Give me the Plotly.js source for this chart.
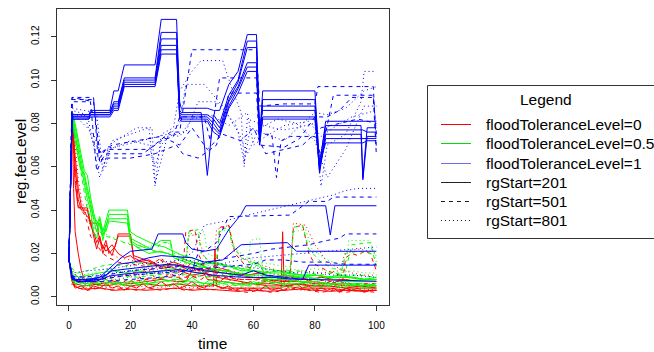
<!DOCTYPE html>
<html>
<head>
<meta charset="utf-8">
<script src="https://cdn.plot.ly/plotly-3.0.1.min.js"></script>
<style>html,body{margin:0;padding:0;background:#fff;}#chart{width:654px;height:352px;}</style>
</head>
<body>
<div id="chart"></div>
<script>
// ---------- tick labels / legend texts ----------
const xTicks = [0, 20, 40, 60, 80, 100];
const yTicks = [0, 0.02, 0.04, 0.06, 0.08, 0.10, 0.12];
const yTickText = ["0.00", "0.02", "0.04", "0.06", "0.08", "0.10", "0.12"];
const legendLabels = ["floodToleranceLevel=0", "floodToleranceLevel=0.5", "floodToleranceLevel=1", "rgStart=201", "rgStart=501", "rgStart=801"];

// ---------- floodToleranceLevel=1, rgStart=201 (high bundle, shared time grid) ----------
const timeBlueSolidHigh = [0,1,6.5,7,13.3,14.6,16,18,28,30,35,36,36.5,43,45,47,49,52,55,58,61,62,63,80,81.5,83.5,95,95.6,97,100];
const blueSolidHigh1 = [0.017,0.084,0.084,0.086,0.086,0.095,0.095,0.107,0.107,0.128,0.128,0.090,0.087,0.087,0.087,0.086,0.086,0.098,0.104,0.121,0.121,0.072,0.095,0.095,0.060,0.081,0.081,0.081,0.081,0.081];
const blueSolidHigh2 = [0.017,0.084,0.084,0.085,0.085,0.090,0.090,0.101,0.101,0.122,0.122,0.086,0.085,0.085,0.056,0.084,0.080,0.093,0.100,0.118,0.118,0.070,0.091,0.091,0.062,0.079,0.079,0.055,0.078,0.078];
const blueSolidHigh3 = [0.017,0.083,0.083,0.085,0.085,0.089,0.089,0.100,0.100,0.119,0.119,0.085,0.084,0.084,0.084,0.082,0.078,0.091,0.099,0.115,0.115,0.075,0.088,0.088,0.058,0.077,0.077,0.077,0.076,0.076];
const blueSolidHigh4 = [0.017,0.083,0.083,0.084,0.084,0.088,0.088,0.099,0.099,0.116,0.116,0.084,0.083,0.083,0.083,0.080,0.076,0.090,0.097,0.108,0.108,0.078,0.086,0.086,0.057,0.075,0.075,0.054,0.074,0.074];
const blueSolidHigh5 = [0.017,0.082,0.082,0.084,0.084,0.087,0.087,0.098,0.098,0.114,0.114,0.083,0.082,0.082,0.082,0.078,0.075,0.088,0.096,0.106,0.106,0.072,0.083,0.083,0.059,0.073,0.073,0.073,0.073,0.073];
const blueSolidHigh6 = [0.017,0.082,0.082,0.083,0.083,0.086,0.086,0.097,0.097,0.112,0.112,0.082,0.081,0.081,0.081,0.076,0.074,0.087,0.094,0.104,0.104,0.070,0.082,0.082,0.061,0.071,0.071,0.071,0.072,0.072];

// ---------- other series as [time, value] points ----------
const blueDashHigh1 = [[0,0.017],[1,0.092],[8,0.092],[9.5,0.063],[12,0.068],[26,0.068],[33,0.076],[36,0.076],[38,0.095],[40,0.114],[61,0.114],[62,0.088],[70,0.089],[80,0.089],[81,0.097],[99,0.097],[100,0.068]];
const blueDashHigh2 = [[0,0.017],[1,0.091],[8,0.091],[10,0.062],[12,0.066],[24,0.066],[30,0.072],[34,0.074],[36,0.083],[44,0.083],[46,0.072],[49,0.101],[61,0.101],[62,0.075],[66,0.075],[67.5,0.055],[69,0.072],[72,0.074],[80,0.074],[82,0.065],[86,0.093],[99,0.093],[100,0.075]];
const blueDashHigh3 = [[0,0.017],[1,0.090],[7,0.090],[9,0.058],[11,0.064],[20,0.064],[28,0.066],[35,0.070],[37,0.066],[42,0.064],[48,0.070],[52,0.094],[61,0.094],[62,0.070],[70,0.069],[75,0.073],[80,0.083],[84,0.083],[88,0.086],[92,0.092],[99,0.092],[100,0.065]];
const blueDashHigh4 = [[0,0.017],[1,0.092],[8,0.090],[10,0.066],[14,0.070],[22,0.072],[30,0.074],[36,0.070],[40,0.078],[45,0.068],[50,0.075],[56,0.072],[60,0.078],[64,0.066],[70,0.068],[76,0.070],[82,0.078],[88,0.080],[94,0.082],[100,0.080]];

const blueDotHigh1 = [[0,0.017],[1,0.085],[8,0.075],[12,0.060],[14,0.072],[20,0.075],[26,0.078],[28,0.051],[30,0.075],[34,0.078],[36,0.095],[40,0.104],[43,0.109],[50,0.109],[53,0.096],[56,0.085],[57,0.060],[58,0.082],[62,0.080],[66,0.078],[70,0.077],[74,0.078],[80,0.080],[82,0.051],[84,0.070],[90,0.075],[95,0.090],[96,0.104],[100,0.104]];
const blueDotHigh2 = [[0,0.017],[1,0.086],[6,0.084],[9,0.062],[10,0.055],[13,0.068],[20,0.072],[26,0.070],[28,0.060],[30,0.070],[36,0.080],[38,0.098],[44,0.098],[50,0.088],[55,0.076],[57,0.062],[59,0.078],[64,0.075],[70,0.072],[76,0.080],[80,0.085],[84,0.084],[90,0.087],[96,0.095],[100,0.097]];
const blueDotHigh3 = [[0,0.017],[1,0.087],[9,0.085],[11,0.058],[13,0.070],[22,0.078],[27,0.078],[28,0.052],[32,0.074],[38,0.076],[42,0.090],[48,0.090],[54,0.080],[58,0.066],[62,0.078],[68,0.082],[74,0.080],[80,0.072],[84,0.055],[90,0.068],[96,0.088],[100,0.088]];
const blueDotHigh4 = [[0,0.017],[1,0.083],[5,0.084],[9,0.066],[12,0.068],[18,0.070],[26,0.073],[32,0.075],[36,0.074],[40,0.082],[46,0.084],[52,0.079],[58,0.085],[60,0.070],[64,0.074],[70,0.079],[78,0.081],[82,0.074],[86,0.078],[92,0.083],[100,0.086]];

const blueSolidLow1 = [[0,0.017],[1,0.010],[2,0.008],[6,0.008],[10,0.009],[14,0.014],[17,0.018],[20,0.021],[27,0.022],[29,0.029],[37,0.029],[38,0.025],[40,0.022],[44,0.021],[48,0.022],[52,0.031],[56,0.038],[57.5,0.042],[83.5,0.042],[85,0.0285],[86.5,0.042],[100,0.042]];
const blueSolidLow2 = [[0,0.017],[1,0.009],[3,0.007],[8,0.008],[12,0.010],[16,0.015],[21,0.016],[26,0.018],[30,0.019],[40,0.018],[44,0.016],[50,0.017],[56,0.024],[71,0.025],[74,0.021],[100,0.021]];
const blueSolidLow3 = [[0,0.017],[1,0.008],[4,0.007],[10,0.008],[14,0.012],[20,0.013],[26,0.014],[32,0.015],[38,0.014],[44,0.012],[50,0.011],[56,0.010],[60,0.012],[64,0.010],[70,0.009],[76,0.008],[78,0.0146],[100,0.0146]];
const blueSolidLow4 = [[0,0.017],[1,0.0085],[3,0.0068],[9,0.0072],[13,0.0095],[18,0.0105],[24,0.0112],[30,0.0118],[36,0.0125],[42,0.0110],[48,0.0098],[54,0.0092],[60,0.0088],[66,0.0090],[72,0.0082],[78,0.0080],[84,0.0078],[90,0.0076],[96,0.0074],[100,0.0072]];
const blueDashLow1 = [[0,0.017],[1,0.009],[2,0.008],[10,0.008],[15,0.009],[20,0.010],[30,0.011],[40,0.012],[42,0.020],[45,0.022],[48,0.025],[52,0.037],[72,0.0377],[75,0.041],[78,0.044],[84,0.044],[86,0.046],[100,0.046]];
const blueDashLow2 = [[0,0.017],[1,0.008],[3,0.007],[10,0.007],[20,0.008],[30,0.009],[36,0.010],[40,0.014],[46,0.016],[52,0.018],[60,0.020],[66,0.022],[72,0.023],[78,0.024],[84,0.026],[88,0.027],[90,0.029],[100,0.029]];
const blueDashLow3 = [[0,0.017],[1,0.0095],[5,0.009],[12,0.010],[20,0.012],[28,0.013],[36,0.014],[44,0.013],[52,0.014],[60,0.015],[64,0.017],[70,0.017],[76,0.016],[84,0.016],[90,0.015],[100,0.015]];
const blueDotLow1 = [[0,0.017],[1,0.010],[4,0.009],[10,0.010],[20,0.012],[30,0.014],[40,0.020],[44,0.033],[51,0.035],[56,0.037],[62,0.039],[68,0.041],[74,0.043],[80,0.045],[86,0.047],[90,0.049],[94,0.050],[100,0.050]];
const blueDotLow2 = [[0,0.017],[1,0.009],[5,0.008],[12,0.009],[20,0.010],[28,0.011],[36,0.012],[44,0.013],[52,0.016],[60,0.018],[68,0.019],[76,0.020],[84,0.021],[92,0.022],[100,0.023]];
const blueDotLow3 = [[0,0.017],[1,0.011],[6,0.012],[14,0.013],[22,0.015],[30,0.016],[38,0.017],[44,0.016],[50,0.015],[56,0.014],[62,0.013],[68,0.012],[74,0.011],[80,0.011],[86,0.010],[92,0.010],[100,0.009]];

const greenSolid1 = [[0,0.017],[1,0.085],[2,0.075],[3,0.068],[4,0.060],[5,0.052],[6,0.045],[7,0.040],[8,0.030],[9,0.027],[10,0.034],[11,0.026],[12,0.032],[13,0.038],[19,0.038],[20,0.026],[22,0.024],[26,0.022],[30,0.026],[33,0.026],[34,0.018],[38,0.016],[42,0.014],[46,0.013],[50,0.012],[55,0.011],[60,0.009],[65,0.008],[70,0.008],[75,0.007],[80,0.007],[85,0.006],[90,0.006],[95,0.006],[100,0.005]];
const greenSolid2 = [[0,0.017],[1,0.084],[2,0.078],[3,0.070],[4,0.062],[5,0.055],[6,0.048],[7,0.042],[8,0.035],[9,0.030],[10,0.036],[11,0.028],[12,0.033],[13,0.036],[19,0.036],[20,0.025],[23,0.022],[26,0.020],[30,0.021],[34,0.019],[38,0.017],[42,0.015],[46,0.013],[50,0.012],[54,0.011],[58,0.010],[62,0.010],[66,0.009],[70,0.010],[74,0.009],[78,0.009],[82,0.008],[86,0.008],[90,0.007],[95,0.007],[100,0.007]];
const greenSolid3 = [[0,0.017],[1,0.083],[2,0.072],[3,0.064],[4,0.058],[5,0.057],[6,0.050],[7,0.043],[8,0.037],[10,0.033],[12,0.030],[13,0.035],[19,0.034],[20,0.027],[24,0.024],[28,0.021],[32,0.020],[36,0.018],[40,0.016],[44,0.015],[48,0.016],[52,0.014],[56,0.012],[60,0.012],[64,0.011],[68,0.012],[72,0.011],[76,0.010],[80,0.010],[84,0.009],[88,0.009],[92,0.009],[96,0.008],[100,0.008]];
const greenSolid4 = [[0,0.017],[1,0.009],[2,0.007],[5,0.006],[10,0.007],[15,0.006],[20,0.007],[25,0.006],[30,0.007],[35,0.008],[40,0.007],[45,0.006],[50,0.007],[55,0.006],[60,0.006],[65,0.007],[70,0.006],[75,0.006],[80,0.007],[85,0.006],[90,0.006],[95,0.005],[100,0.006]];
const greenSolid5 = [[0,0.017],[1,0.011],[3,0.009],[6,0.010],[10,0.011],[14,0.012],[18,0.011],[22,0.012],[26,0.011],[30,0.012],[34,0.013],[38,0.012],[42,0.011],[46,0.012],[50,0.011],[54,0.010],[58,0.011],[60,0.016],[62,0.015],[64,0.010],[68,0.009],[72,0.010],[76,0.009],[80,0.010],[84,0.009],[88,0.010],[92,0.009],[96,0.008],[100,0.009]];
const greenSolid6 = [[0,0.017],[1,0.085],[2,0.080],[3,0.073],[4,0.066],[5,0.058],[6,0.056],[7,0.046],[8,0.039],[9,0.033],[10,0.037],[11,0.030],[12,0.035],[13,0.040],[19,0.040],[20,0.030],[22,0.028],[25,0.026],[28,0.024],[31,0.023],[34,0.021],[37,0.019],[40,0.018],[44,0.016],[48,0.015],[52,0.014],[56,0.013],[60,0.012],[65,0.011],[70,0.011],[75,0.010],[80,0.010],[85,0.009],[90,0.009],[95,0.008],[100,0.008]];
const greenLow1 = [[0,0.017],[1,0.008],[2,0.006],[4,0.007],[6,0.005],[8,0.007],[10,0.006],[12,0.008],[14,0.006],[16,0.007],[18,0.005],[20,0.007],[22,0.006],[24,0.008],[26,0.006],[28,0.007],[30,0.009],[32,0.007],[34,0.008],[36,0.006],[38,0.007],[40,0.009],[42,0.007],[44,0.006],[46,0.008],[48,0.007],[50,0.006],[52,0.007],[54,0.005],[56,0.006],[58,0.005],[60,0.007],[62,0.006],[64,0.008],[66,0.006],[68,0.007],[70,0.005],[72,0.007],[74,0.008],[76,0.006],[78,0.007],[80,0.005],[82,0.006],[84,0.005],[86,0.006],[88,0.004],[90,0.006],[92,0.005],[94,0.006],[96,0.004],[98,0.005],[100,0.005]];
const greenDash1 = [[0,0.017],[1,0.085],[2,0.074],[3,0.065],[4,0.055],[5,0.048],[6,0.040],[7,0.037],[8,0.032],[10,0.030],[12,0.028],[14,0.027],[16,0.026],[20,0.024],[24,0.022],[28,0.021],[30,0.025],[33,0.025],[34,0.018],[38,0.016],[39,0.030],[42,0.031],[43,0.020],[46,0.016],[48,0.017],[49,0.031],[52,0.032],[53,0.024],[56,0.018],[60,0.015],[64,0.013],[68,0.012],[72,0.012],[73,0.032],[76,0.033],[78,0.022],[82,0.016],[86,0.013],[90,0.012],[92,0.024],[98,0.025],[100,0.014]];
const greenDash2 = [[0,0.017],[1,0.007],[3,0.005],[8,0.005],[14,0.006],[20,0.005],[26,0.006],[32,0.005],[38,0.006],[44,0.005],[50,0.006],[56,0.005],[62,0.005],[68,0.004],[74,0.005],[80,0.004],[86,0.005],[92,0.004],[100,0.004]];
const greenDash3 = [[0,0.017],[1,0.013],[3,0.011],[6,0.012],[10,0.014],[14,0.015],[18,0.014],[22,0.016],[26,0.015],[30,0.014],[34,0.015],[38,0.013],[42,0.014],[46,0.013],[50,0.012],[54,0.013],[58,0.012],[62,0.011],[66,0.012],[70,0.011],[74,0.012],[78,0.011],[82,0.010],[86,0.011],[90,0.010],[94,0.010],[100,0.009]];
const greenDash4 = [[0,0.017],[1,0.009],[4,0.008],[10,0.009],[16,0.010],[22,0.009],[28,0.010],[34,0.011],[40,0.010],[46,0.009],[52,0.010],[58,0.009],[64,0.009],[70,0.008],[76,0.009],[82,0.008],[88,0.008],[90,0.020],[94,0.021],[98,0.020],[100,0.019]];
const greenDot1 = [[0,0.017],[1,0.085],[2,0.076],[3,0.066],[4,0.058],[5,0.050],[6,0.043],[7,0.039],[9,0.034],[11,0.030],[13,0.028],[15,0.027],[18,0.025],[22,0.024],[26,0.023],[30,0.026],[32,0.026],[34,0.020],[38,0.019],[39,0.029],[44,0.030],[45,0.020],[48,0.018],[49,0.030],[52,0.031],[54,0.022],[58,0.018],[62,0.016],[66,0.015],[70,0.014],[72,0.014],[73,0.030],[77,0.031],[79,0.022],[84,0.017],[88,0.015],[90,0.014],[91,0.026],[98,0.026],[100,0.016]];
const greenDot2 = [[0,0.017],[1,0.006],[5,0.005],[10,0.006],[16,0.005],[22,0.006],[28,0.005],[34,0.006],[40,0.005],[46,0.006],[52,0.005],[58,0.006],[64,0.005],[70,0.006],[76,0.005],[82,0.006],[88,0.005],[94,0.005],[100,0.005]];
const greenDot3 = [[0,0.017],[1,0.012],[4,0.010],[8,0.011],[12,0.013],[16,0.012],[20,0.014],[24,0.013],[28,0.015],[32,0.014],[36,0.016],[40,0.015],[44,0.014],[48,0.015],[52,0.014],[56,0.013],[60,0.014],[64,0.013],[68,0.012],[72,0.013],[76,0.012],[80,0.013],[84,0.012],[88,0.011],[92,0.012],[96,0.011],[100,0.011]];
const greenDot4 = [[0,0.017],[1,0.010],[3,0.008],[8,0.009],[14,0.008],[20,0.009],[26,0.010],[32,0.009],[38,0.010],[44,0.009],[50,0.010],[56,0.009],[58,0.009],[59,0.026],[62,0.027],[63,0.012],[68,0.010],[74,0.009],[80,0.010],[86,0.009],[92,0.009],[100,0.008]];

const redSolid1 = [[0,0.017],[1,0.085],[2,0.060],[3,0.045],[4,0.040],[6,0.040],[7,0.033],[8,0.030],[9,0.025],[10,0.028],[11,0.022],[12,0.026],[13,0.020],[15,0.023],[16,0.029],[20,0.029],[21,0.018],[24,0.016],[28,0.015],[30,0.013],[33,0.014],[36,0.012],[40,0.010],[44,0.011],[48,0.009],[52,0.008],[56,0.007],[60,0.006],[66,0.006],[70,0.005],[74,0.006],[78,0.005],[84,0.005],[90,0.004],[95,0.005],[100,0.004]];
const redSolid2 = [[0,0.017],[1,0.084],[2,0.065],[3,0.050],[4,0.042],[5,0.039],[6,0.037],[7,0.035],[8,0.028],[9,0.022],[10,0.027],[11,0.020],[12,0.024],[14,0.019],[16,0.028],[20,0.028],[21,0.019],[25,0.017],[30,0.014],[35,0.015],[38,0.013],[40,0.016],[43,0.015],[46,0.012],[50,0.011],[55,0.010],[60,0.009],[65,0.008],[70,0.007],[75,0.007],[80,0.006],[85,0.006],[90,0.005],[100,0.005]];
const redSolid3 = [[0,0.017],[1,0.008],[2,0.005],[3,0.004],[5,0.0035],[10,0.004],[15,0.003],[20,0.0035],[25,0.003],[30,0.0035],[35,0.004],[40,0.003],[45,0.0035],[50,0.003],[55,0.0025],[60,0.003],[65,0.0025],[70,0.003],[75,0.0035],[80,0.003],[85,0.0025],[90,0.003],[95,0.0025],[100,0.003]];
const redSolid4 = [[0,0.017],[1,0.083],[1.5,0.050],[2,0.030],[3,0.020],[4,0.012],[5,0.008],[8,0.006],[12,0.005],[16,0.006],[20,0.005],[25,0.006],[30,0.005],[35,0.006],[40,0.005],[45,0.005],[47,0.005],[47.5,0.022],[48,0.005],[50,0.004],[55,0.004],[60,0.004],[65,0.004],[69,0.004],[69.5,0.030],[70,0.005],[75,0.004],[80,0.004],[85,0.004],[90,0.003],[100,0.003]];
const redSolid5 = [[0,0.017],[1,0.009],[2,0.006],[5,0.005],[10,0.006],[15,0.007],[20,0.006],[25,0.007],[30,0.008],[35,0.007],[38,0.007],[40,0.012],[43,0.013],[45,0.008],[50,0.007],[55,0.006],[60,0.006],[65,0.005],[70,0.005],[75,0.006],[80,0.005],[85,0.005],[90,0.004],[95,0.004],[100,0.004]];
const redSolid6 = [[0,0.017],[1,0.085],[2,0.052],[3,0.041],[6,0.041],[7,0.034],[9,0.034],[10,0.026],[12,0.021],[14,0.024],[16,0.020],[18,0.018],[20,0.019],[22,0.016],[26,0.017],[30,0.014],[34,0.016],[38,0.014],[42,0.013],[46,0.012],[50,0.013],[54,0.011],[58,0.010],[62,0.011],[66,0.009],[70,0.010],[74,0.009],[78,0.008],[82,0.009],[86,0.008],[90,0.008],[94,0.007],[100,0.007]];
const redLow1 = [[0,0.017],[1,0.007],[2,0.004],[4,0.005],[6,0.003],[8,0.005],[10,0.004],[12,0.006],[14,0.004],[16,0.005],[18,0.003],[20,0.005],[22,0.004],[24,0.006],[26,0.004],[28,0.005],[30,0.007],[32,0.005],[34,0.006],[36,0.004],[38,0.005],[40,0.007],[42,0.005],[44,0.004],[46,0.006],[48,0.005],[50,0.004],[52,0.005],[54,0.003],[56,0.004],[58,0.003],[60,0.004],[62,0.003],[64,0.005],[66,0.003],[68,0.004],[70,0.003],[72,0.005],[74,0.006],[76,0.004],[78,0.005],[80,0.003],[82,0.004],[84,0.003],[86,0.004],[88,0.002],[90,0.004],[92,0.003],[94,0.004],[96,0.002],[98,0.003],[100,0.003]];
const redLow2 = [[0,0.017],[1,0.010],[2,0.007],[3,0.008],[5,0.006],[7,0.008],[9,0.007],[11,0.009],[13,0.007],[15,0.008],[17,0.006],[19,0.008],[21,0.007],[23,0.009],[25,0.008],[27,0.010],[29,0.008],[31,0.009],[33,0.011],[35,0.009],[37,0.008],[39,0.010],[41,0.009],[43,0.008],[45,0.010],[47,0.008],[49,0.007],[51,0.009],[53,0.007],[55,0.008],[57,0.006],[59,0.007],[61,0.006],[63,0.008],[65,0.006],[67,0.007],[69,0.006],[71,0.008],[73,0.009],[75,0.007],[77,0.008],[79,0.006],[81,0.007],[83,0.006],[85,0.007],[87,0.005],[89,0.006],[91,0.005],[93,0.006],[95,0.005],[97,0.006],[100,0.005]];
const redDash1 = [[0,0.017],[1,0.085],[2,0.055],[3,0.042],[5,0.038],[6,0.034],[7,0.028],[9,0.024],[11,0.020],[13,0.018],[16,0.016],[20,0.015],[25,0.014],[28,0.016],[30,0.018],[32,0.014],[36,0.012],[40,0.013],[45,0.011],[48,0.012],[49,0.032],[52,0.033],[54,0.020],[57,0.015],[60,0.012],[65,0.010],[70,0.009],[72,0.010],[73,0.032],[76,0.033],[78,0.020],[80,0.015],[84,0.012],[88,0.010],[92,0.009],[96,0.008],[100,0.008]];
const redDash2 = [[0,0.017],[1,0.006],[3,0.004],[6,0.003],[10,0.004],[14,0.003],[18,0.004],[22,0.003],[26,0.004],[30,0.003],[34,0.004],[38,0.003],[42,0.004],[46,0.003],[50,0.004],[54,0.003],[58,0.002],[62,0.003],[66,0.002],[70,0.003],[74,0.004],[78,0.003],[82,0.002],[86,0.003],[90,0.002],[94,0.003],[100,0.002]];
const redDash3 = [[0,0.017],[1,0.010],[2,0.008],[5,0.007],[10,0.008],[15,0.009],[18,0.010],[20,0.011],[25,0.012],[28,0.013],[30,0.017],[32,0.012],[35,0.011],[37,0.012],[38,0.030],[41,0.031],[42,0.020],[44,0.014],[48,0.011],[52,0.009],[56,0.008],[60,0.008],[64,0.007],[68,0.008],[72,0.007],[76,0.008],[80,0.007],[84,0.006],[88,0.007],[92,0.006],[96,0.006],[100,0.006]];
const redDash4 = [[0,0.017],[1,0.007],[3,0.005],[8,0.005],[14,0.006],[20,0.007],[26,0.008],[32,0.009],[38,0.009],[44,0.010],[50,0.009],[56,0.008],[62,0.008],[68,0.007],[74,0.008],[80,0.008],[86,0.007],[89,0.007],[90,0.018],[92,0.020],[94,0.019],[96,0.021],[98,0.020],[100,0.012]];
const redDot1 = [[0,0.017],[1,0.085],[2,0.070],[3,0.055],[4,0.045],[5,0.040],[6,0.036],[8,0.030],[10,0.025],[12,0.022],[14,0.020],[16,0.018],[20,0.017],[24,0.015],[28,0.014],[30,0.018],[32,0.015],[36,0.013],[40,0.012],[44,0.012],[47,0.013],[48,0.031],[52,0.033],[53,0.025],[56,0.018],[60,0.016],[64,0.014],[68,0.012],[72,0.012],[73,0.034],[77,0.033],[80,0.024],[84,0.016],[88,0.013],[92,0.011],[96,0.010],[100,0.010]];
const redDot2 = [[0,0.017],[1,0.005],[4,0.004],[10,0.0045],[16,0.004],[22,0.005],[28,0.004],[34,0.005],[40,0.004],[46,0.005],[52,0.004],[58,0.004],[64,0.003],[70,0.004],[76,0.003],[82,0.004],[88,0.003],[94,0.004],[100,0.003]];
const redDot3 = [[0,0.017],[1,0.012],[3,0.009],[6,0.008],[10,0.009],[14,0.010],[18,0.010],[22,0.011],[26,0.012],[30,0.013],[34,0.012],[38,0.014],[39,0.028],[42,0.029],[44,0.018],[48,0.014],[52,0.012],[56,0.011],[60,0.010],[64,0.009],[68,0.009],[72,0.008],[76,0.009],[80,0.008],[84,0.007],[88,0.007],[92,0.006],[96,0.006],[100,0.006]];
const redDot4 = [[0,0.017],[1,0.008],[4,0.006],[10,0.007],[16,0.008],[22,0.010],[28,0.011],[34,0.010],[40,0.011],[46,0.012],[52,0.011],[58,0.010],[64,0.011],[70,0.010],[76,0.012],[82,0.011],[88,0.012],[90,0.021],[94,0.022],[98,0.021],[100,0.020]];

// ---------- styles ----------
const RED = "#FF0000", GREEN = "#00FF00", BLUE = "#0000FF";
const DASH = {solid: "solid", dashed: "4px,4px", dotted: "1px,3px"};

const pointSeries = [
  [redSolid1, RED, "solid"], [redSolid2, RED, "solid"], [redSolid3, RED, "solid"], [redSolid4, RED, "solid"], [redSolid5, RED, "solid"], [redSolid6, RED, "solid"],
  [redLow1, RED, "solid"], [redLow2, RED, "dashed"],
  [redDash1, RED, "dashed"], [redDash2, RED, "dashed"], [redDash3, RED, "dashed"], [redDash4, RED, "dashed"],
  [redDot1, RED, "dotted"], [redDot2, RED, "dotted"], [redDot3, RED, "dotted"], [redDot4, RED, "dotted"],
  [greenSolid1, GREEN, "solid"], [greenSolid2, GREEN, "solid"], [greenSolid3, GREEN, "solid"], [greenSolid4, GREEN, "solid"], [greenSolid5, GREEN, "solid"], [greenSolid6, GREEN, "solid"],
  [greenLow1, GREEN, "solid"],
  [greenDash1, GREEN, "dashed"], [greenDash2, GREEN, "dashed"], [greenDash3, GREEN, "dashed"], [greenDash4, GREEN, "dashed"],
  [greenDot1, GREEN, "dotted"], [greenDot2, GREEN, "dotted"], [greenDot3, GREEN, "dotted"], [greenDot4, GREEN, "dotted"],
  [blueSolidLow1, BLUE, "solid"], [blueSolidLow2, BLUE, "solid"], [blueSolidLow3, BLUE, "solid"], [blueSolidLow4, BLUE, "solid"],
  [blueDashLow1, BLUE, "dashed"], [blueDashLow2, BLUE, "dashed"], [blueDashLow3, BLUE, "dashed"],
  [blueDotLow1, BLUE, "dotted"], [blueDotLow2, BLUE, "dotted"], [blueDotLow3, BLUE, "dotted"],
  [blueDashHigh1, BLUE, "dashed"], [blueDashHigh2, BLUE, "dashed"], [blueDashHigh3, BLUE, "dashed"], [blueDashHigh4, BLUE, "dashed"],
  [blueDotHigh1, BLUE, "dotted"], [blueDotHigh2, BLUE, "dotted"], [blueDotHigh3, BLUE, "dotted"], [blueDotHigh4, BLUE, "dotted"]
];
const gridSeries = [blueSolidHigh1, blueSolidHigh2, blueSolidHigh3, blueSolidHigh4, blueSolidHigh5, blueSolidHigh6];

const traces = [];
pointSeries.forEach(([pts, col, sty]) => {
  traces.push({type: "scatter", mode: "lines", x: pts.map(p => p[0]), y: pts.map(p => p[1]),
    line: {color: col, width: 1, dash: DASH[sty]}, hoverinfo: "skip", showlegend: false});
});
gridSeries.forEach(vals => {
  traces.push({type: "scatter", mode: "lines", x: timeBlueSolidHigh, y: vals,
    line: {color: BLUE, width: 1, dash: "solid"}, hoverinfo: "skip", showlegend: false});
});

// ---------- layout (pixel helpers for the hand-drawn R-style legend) ----------
const PL = 57, PR = 389, PT = 9, PB = 305;
const fx = p => (p - PL) / (PR - PL);
const fy = p => (PB - p) / (PB - PT);
const FONT = "Liberation Sans, Arial, Helvetica, sans-serif";
const AX = "#333333";

const legendColors = [RED, "#00E000", "#6A6AFF", "#222222", "#222222", "#222222"];
const legendDash = ["solid", "solid", "solid", "solid", "4px,4px", "1px,3px"];
const rowY = [124.5, 143.5, 163.5, 182.5, 201.5, 220.5];

const shapes = [{type: "rect", xref: "paper", yref: "paper", x0: fx(427.5), x1: fx(662), y0: fy(85.5), y1: fy(238.5),
  line: {color: AX, width: 1}, fillcolor: "rgba(0,0,0,0)"}];
const annotations = [
  {xref: "paper", yref: "paper", x: fx(546), y: fy(99), text: "Legend", showarrow: false, xanchor: "center", yanchor: "middle", font: {size: 15.5, family: FONT, color: "#000"}},
  {xref: "paper", yref: "paper", x: fx(212), y: fy(343), text: "time", showarrow: false, xanchor: "center", yanchor: "middle", font: {size: 15.5, family: FONT, color: "#000"}},
  {xref: "paper", yref: "paper", x: fx(20), y: fy(162), text: "reg.feeLevel", textangle: -90, showarrow: false, xanchor: "center", yanchor: "middle", font: {size: 15.5, family: FONT, color: "#000"}}
];
legendLabels.forEach((lab, i) => {
  shapes.push({type: "line", xref: "paper", yref: "paper", x0: fx(441), x1: fx(471), y0: fy(rowY[i]), y1: fy(rowY[i]),
    line: {color: legendColors[i], width: 1, dash: legendDash[i]}});
  annotations.push({xref: "paper", yref: "paper", x: fx(484), y: fy(rowY[i]), text: lab, showarrow: false,
    xanchor: "left", yanchor: "middle", font: {size: 15.5, family: FONT, color: "#000"}});
});

const layout = {
  width: 654, height: 352,
  margin: {l: PL, r: 654 - PR, t: PT, b: 352 - PB},
  paper_bgcolor: "#fff", plot_bgcolor: "#fff",
  showlegend: false,
  font: {family: FONT, color: "#000"},
  xaxis: {range: [-3.9, 104.1], tickvals: xTicks, ticks: "outside", ticklen: 5, tickcolor: AX,
    showline: true, mirror: true, linecolor: AX, linewidth: 1, showgrid: false, zeroline: false,
    ticklabelstandoff: 6,
    tickfont: {size: 10, family: FONT, color: "#000"}},
  yaxis: {range: [-0.0038, 0.1328], tickvals: yTicks, ticktext: yTickText, tickangle: -90, ticks: "outside", ticklen: 5, tickcolor: AX,
    showline: true, mirror: true, linecolor: AX, linewidth: 1, showgrid: false, zeroline: false,
    ticklabelstandoff: 8,
    tickfont: {size: 10, family: FONT, color: "#000"}},
  shapes: shapes,
  annotations: annotations
};

Plotly.newPlot("chart", traces, layout, {staticPlot: true, displayModeBar: false});
</script>
</body>
</html>
